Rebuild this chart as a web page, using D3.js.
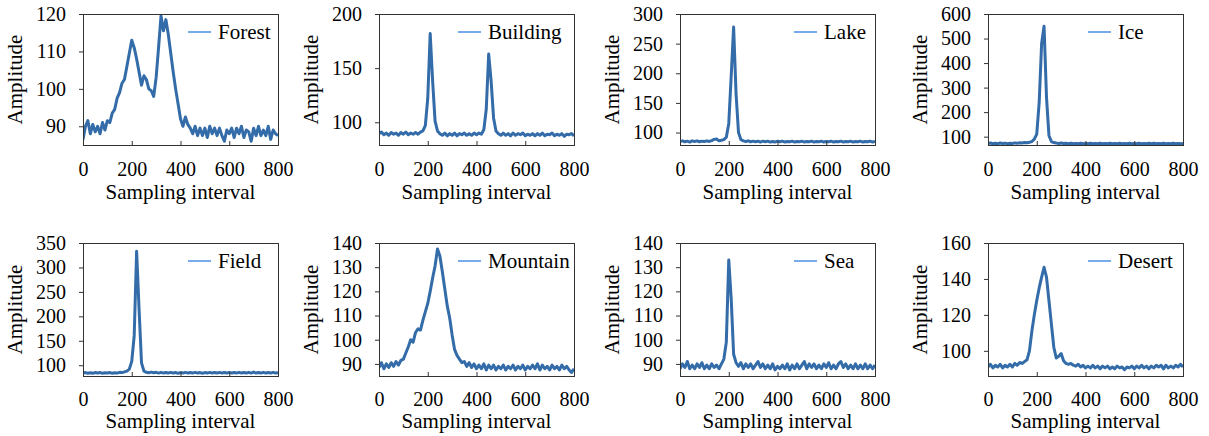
<!DOCTYPE html>
<html>
<head>
<meta charset="utf-8">
<script src="https://cdn.jsdelivr.net/npm/d3@7"></script>
<style>
  body { margin: 0; background: #fff; }
</style>
</head>
<body>
<div id="chart"></div>
<script>
/* Data: amplitude read every 10 sampling intervals, 0..800 */
var names = ["Forest", "Building", "Lake", "Ice", "Field", "Mountain", "Sea", "Desert"];

var forest = [86.5,90,91.5,88,90.5,88.5,90,88,91,89,91.5,91,93.5,94.5,97.5,99,101.5,102.5,106,109.5,
  113,111,108,104.5,101,103.5,102.5,100,99.5,98,103,111,119.5,115.5,118.5,114.5,109.5,104.5,100,96,
  92,90,92.5,90.5,89.5,88,90,87.5,89.5,87.5,89.5,87,90,88,89.5,87.5,89.5,87.5,86,89,
  88,89.5,87,89.5,88,90,87,89,88.5,86,89.5,87.5,90,87.5,89,87.5,90,86.5,89,88,87.5];

var building = [89.5,91,88.5,90,88,90.5,89,90,88,90.5,89,91,88.5,90,89,90.5,89,91,92,97,
  122,182,138,101,92,89.5,88,90,87.5,89.5,88,90,87.5,89.5,88.5,90,88,89.5,88,90,
  88.5,90,89,93,112,163,138,104,92,89.5,88,90,88,89.5,87.5,90,88,89.5,88.5,90,
  87.5,89,88,89.5,87.5,89.5,88,90,87.5,89,88.5,90,87.5,89,88,89.5,87,89,88.5,89.5,87.5];

var lake = [85,86,84.5,85.5,84,86,85,86,84.5,85.5,85,86,85,86.5,88.5,89,86,87,88,92,
  115,195,278,165,100,88,86,85,86,84.5,85.5,84.5,85.5,84,85.5,84.5,85.5,84,85,84,
  85.5,84.5,85.5,84,85,84.5,85.5,84,85,84.5,85.5,84,85,84.5,85.5,84,85,84.5,85.5,84,
  85,84.5,85.5,84,85,84.5,85.5,84,85,84.5,85.5,84,85,84.5,85.5,84,85,84.5,85.5,84,85];

var ice = [72,74,71,73,71.5,74,72,73.5,71,73,72,74.5,73,75,74,76,75,77,80,90,
  110,240,480,550,260,105,80,76,74,72.5,74,72,73.5,71.5,73,71,72.5,71,73,71.5,
  72.5,71,73,71.5,72.5,71,73,71.5,72.5,71,73,71,72.5,71,73,71.5,72.5,71,73,71.5,
  72.5,71,73,71.5,72.5,71,73,71.5,73,71,72.5,71,73,71.5,72.5,71,73,71.5,72.5,71,72.5];

var field = [84,85,83.5,84.5,83.5,85,84,85,83.5,84.5,84,85,83.5,84.5,84,85.5,85,86.5,88,92,
  108,160,333,215,105,88,85.5,84.5,86,84.5,85.5,84,85.5,84,85,84,85.5,84,85,83.5,
  85,84,85.5,84,85,84,85.5,84,85,83.5,85,84,85.5,84,85,84,85.5,84,85,84,
  85.5,84,85,84,85.5,84,85,84,85.5,84,86,84,85,84,85.5,84,85,84,85.5,84,84.5];

var mountain = [88.5,90.5,88,90,88.5,90.5,89,91,89.5,91.5,92,94.5,97,100,99,103,104.5,104,108,111.5,
  115,120,125.5,130.5,137.5,134.5,128,121,114,109,102,96,93.5,92,90.5,91,89,90.5,88.5,90,
  88,89.5,88,90,87.5,89.5,88,89.5,87.5,89,88,89.5,87.5,89,88,89.5,87.5,89,88,89.5,
  87.5,89,88,89.5,88,90,87.5,89.5,88,89,87.5,89.5,88,89,87.5,89.5,88,89,87.5,86.5,88];

var sea = [88,90,88.5,91,88,89.5,88,90,88.5,90.5,88,89.5,88,90,88.5,89.5,88,90,92,99,
  133,117,94,90.5,89,90.5,88,90,88.5,90,88,89.5,91,88.5,90,88,89.5,88,90,87.5,
  89,88,89.5,88,90,87.5,89.5,88,90,88,89.5,91,88,90,88.5,90,88,89.5,88,90,
  88.5,90.5,88,89.5,88,90,91,88.5,90,88,89.5,88,90,88,89.5,88,90,88,89.5,88,89.5];

var desert = [91,92.5,90.5,92,91,92.5,90.5,92,91,92.5,91,93,92,93.5,93,94,95,100,111,120,
  128,135,141,146.5,141,128,115,102,96,97,98.5,94.5,93,92.5,93,92,91.5,92.5,91,92,
  90.5,91.5,90.5,92,90.5,91.5,90,91.5,90.5,91.5,90,91,90,91.5,90.5,91,89.5,91,90.5,91.5,
  90,91.5,90.5,92,90.5,91.5,90,91.5,90.5,92,91,92,90,92,90.5,91.5,90.5,92,91,92.5,91];

var series = [forest, building, lake, ice, field, mountain, sea, desert];

/* Axis ranges and tick labels */
var yMin = [85, 79, 79, 66, 78, 85, 85, 86];
var yMax = [120, 200, 300, 600, 350, 140, 140, 160];
var yTicks = [
  [90, 100, 110, 120],
  [100, 150, 200],
  [100, 150, 200, 250, 300],
  [100, 200, 300, 400, 500, 600],
  [100, 150, 200, 250, 300, 350],
  [90, 100, 110, 120, 130, 140],
  [90, 100, 110, 120, 130, 140],
  [100, 120, 140, 160]
];
var xTicks = [0, 200, 400, 600, 800];
var sampleStep = 10;

/* Layout */
var colLeft = [83, 379, 680, 988];
var rowTop = [14, 243];
var rowBottom = [145, 376];
var plotW = 195;
var legendOffset = [105, 79, 114, 100];
var titleGap = [54, 52];
var tickPad = [17, 16];

var font = "'Liberation Serif', 'Times New Roman', Times, serif";
var lineColor = "#336ca8";
var legendColor = "#4a8fe2";

var svg = d3.select("#chart").append("svg")
  .attr("width", 1209)
  .attr("height", 436)
  .style("font-family", font);

names.forEach(function(name, k) {
  var col = k % 4, row = Math.floor(k / 4);
  var h = rowBottom[row] - rowTop[row];
  var values = series[k].map(function(v, i) { return {x: i * sampleStep, y: v}; });

  var xScale = d3.scaleLinear().domain([0, 800]).range([0, plotW]);
  var yScale = d3.scaleLinear().domain([yMin[k], yMax[k]]).range([h, 0]);

  var g = svg.append("g")
    .attr("transform", "translate(" + colLeft[col] + "," + rowTop[row] + ")");

  g.append("clipPath").attr("id", "clip" + k)
    .append("rect").attr("width", plotW).attr("height", h);

  /* the signal */
  var line = d3.line()
    .x(function(d) { return xScale(d.x); })
    .y(function(d) { return yScale(d.y); });

  g.append("path")
    .datum(values)
    .attr("clip-path", "url(#clip" + k + ")")
    .attr("fill", "none")
    .attr("stroke", lineColor)
    .attr("stroke-width", 3)
    .attr("stroke-linejoin", "round")
    .attr("d", line);

  /* x axis: ticks point inward */
  var xAxis = d3.axisBottom(xScale).tickValues(xTicks).tickSize(-4).tickPadding(tickPad[row]).tickSizeOuter(0);
  var gx = g.append("g").attr("transform", "translate(0," + h + ")").call(xAxis)
    .attr("font-family", font);
  gx.select(".domain").remove();
  gx.selectAll("line").attr("stroke", "#333");
  gx.selectAll("text").style("font-family", font).style("font-size", "20px").attr("fill", "#000");

  /* y axis: ticks outside */
  var yAxis = d3.axisLeft(yScale).tickValues(yTicks[k]).tickSize(4).tickPadding(13).tickSizeOuter(0);
  var gy = g.append("g").call(yAxis)
    .attr("font-family", font);
  gy.select(".domain").remove();
  gy.selectAll("line").attr("stroke", "#333");
  gy.selectAll("text").style("font-family", font).style("font-size", "20px").attr("fill", "#000");

  /* frame */
  g.append("rect")
    .attr("x", 0.5).attr("y", 0.5)
    .attr("width", plotW).attr("height", h)
    .attr("fill", "none")
    .attr("stroke", "#333")
    .attr("stroke-width", 1);

  /* axis titles */
  g.append("text")
    .attr("x", plotW / 2)
    .attr("y", h + titleGap[row])
    .attr("text-anchor", "middle")
    .style("font-family", font)
    .style("font-size", "21px")
    .text("Sampling interval");

  g.append("text")
    .attr("transform", "translate(-61," + (h / 2) + ") rotate(-90)")
    .attr("text-anchor", "middle")
    .style("font-family", font)
    .style("font-size", "21px")
    .text("Amplitude");

  /* legend */
  var lx = legendOffset[col], ly = 18;
  g.append("line")
    .attr("x1", lx).attr("x2", lx + 23)
    .attr("y1", ly).attr("y2", ly)
    .attr("stroke", legendColor)
    .attr("stroke-width", 1.5);
  g.append("text")
    .attr("x", lx + 30)
    .attr("y", ly + 6.5)
    .style("font-family", font)
    .style("font-size", "21px")
    .text(name);
});
</script>
</body>
</html>
